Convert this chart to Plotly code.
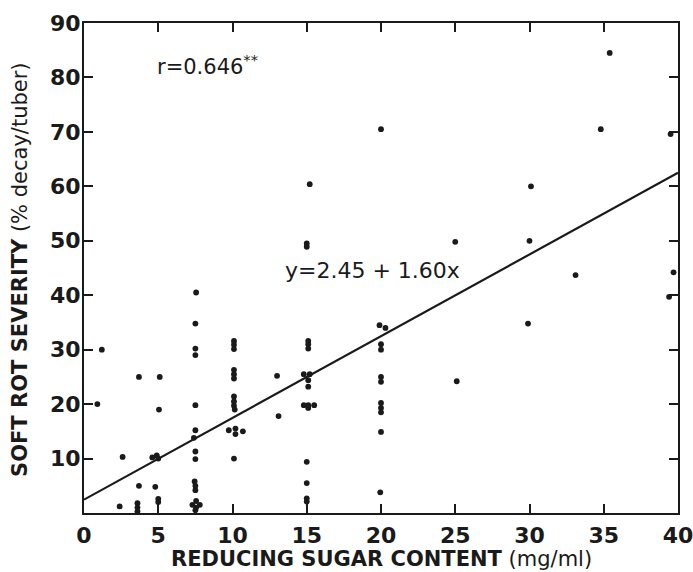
import plotly.graph_objects as go

# Reducing sugar content (mg/ml)
sugar = [1.2, 0.9, 2.6, 2.4,
         3.7, 3.7, 3.6, 3.6, 3.6,
         5.1, 5.05, 4.6, 4.9, 5.0, 4.8, 5.0, 5.0,
         7.55, 7.5, 7.5, 7.5, 7.5, 7.5, 7.4, 7.5, 7.5, 7.45, 7.5, 7.5, 7.55, 7.3, 7.8, 7.55, 7.5,
         10.1, 10.1, 10.1, 10.1, 10.1, 10.1, 10.1, 10.1, 10.1, 10.15, 9.75, 10.2, 10.2, 10.7, 10.1,
         13.0, 13.1,
         15.1, 15.1, 15.1, 14.8, 15.2, 15.1, 15.1, 14.8, 15.1, 15.5, 15.1, 15.0, 15.0, 15.0, 15.0, 15.2, 15.0, 15.0,
         20.0, 19.9, 20.3, 20.0, 20.0, 20.0, 20.0, 20.0, 20.0, 20.0, 20.0, 19.95,
         25.0, 25.1, 30.0, 29.9, 30.1, 33.1, 34.8, 35.4, 39.5, 39.7, 39.4]
# Soft rot severity (% decay/tuber)
severity = [30, 20, 10.3, 1.2,
            25, 5, 1.8, 1.0, 0.3,
            25, 19, 10.2, 10.6, 10.0, 4.8, 2.6, 2.0,
            40.5, 34.8, 30.2, 29, 19.8, 15.2, 13.8, 11.3, 9.9, 5.8, 5, 4.2, 2.2, 1.5, 1.5, 1.0, 0.5,
            31.6, 30.9, 30.1, 26.3, 25.5, 24.7, 21.4, 20.5, 19.7, 19, 15.2, 15.5, 14.5, 15, 10.0,
            25.2, 17.8,
            31.6, 31, 30.2, 25.5, 25.5, 24.4, 23.2, 19.8, 19.8, 19.8, 19.3, 9.4, 5.5, 2.7, 2.1, 60.4, 49.5, 48.9,
            70.5, 34.5, 34, 31, 30, 25, 24.1, 20.2, 19.3, 18.5, 14.9, 3.8,
            49.8, 24.2, 50, 34.8, 60, 43.7, 70.5, 84.5, 69.6, 44.2, 39.7]

# Regression line as drawn (endpoints)
fit_x = [0, 40]
fit_y = [2.45, 62.5]

x_ticks = [0, 5, 10, 15, 20, 25, 30, 35, 40]
y_ticks = [10, 20, 30, 40, 50, 60, 70, 80, 90]

FONT = "DejaVu Sans, Liberation Sans, sans-serif"
INK = "#1a1a1a"

fig = go.Figure()
fig.add_trace(go.Scatter(x=fit_x, y=fit_y, mode="lines",
                         line=dict(color=INK, width=2.2), showlegend=False,
                         hoverinfo="skip"))
fig.add_trace(go.Scatter(x=sugar, y=severity, mode="markers",
                         marker=dict(color=INK, size=5.8), showlegend=False))

axis_common = dict(showline=True, linecolor=INK, linewidth=2, mirror="ticks",
                   ticks="inside", ticklen=9, tickwidth=2, tickcolor=INK,
                   showgrid=False, zeroline=False, ticklabeloverflow="allow",
                   automargin=False,
                   tickfont=dict(family=FONT, size=22, color=INK, weight="bold"))

fig.update_xaxes(range=[0, 40], tickvals=x_ticks, ticktext=[str(v) for v in x_ticks],
                 ticklabelstandoff=2, **axis_common)
fig.update_yaxes(range=[0, 90], tickvals=y_ticks, ticktext=[str(v) for v in y_ticks],
                 ticklabelstandoff=-3, **axis_common)

# Axis titles
fig.add_annotation(x=0.5, y=0, xref="paper", yref="paper", xanchor="center", yanchor="middle",
                   yshift=-46, showarrow=False,
                   text="<b>REDUCING SUGAR CONTENT</b> (mg/ml)",
                   font=dict(family=FONT, size=21, color=INK))
fig.add_annotation(x=0, y=0.496, xref="paper", yref="paper", xanchor="center", yanchor="middle",
                   xshift=-64, textangle=-90, showarrow=False,
                   text="<b>SOFT ROT SEVERITY</b> (% decay/tuber)",
                   font=dict(family=FONT, size=21, color=INK))

fig.add_annotation(x=4.8, y=82.3, xref="x", yref="y", xanchor="left", yanchor="middle",
                   text="r=0.646<sup>**</sup>", showarrow=False,
                   font=dict(family=FONT, size=21, color=INK))
fig.add_annotation(x=13.4, y=44.6, xref="x", yref="y", xanchor="left", yanchor="middle",
                   text="y=2.45 + 1.60x", showarrow=False,
                   font=dict(family=FONT, size=22, color=INK))

fig.update_layout(width=693, height=572, margin=dict(l=84, r=15, t=23, b=59),
                  plot_bgcolor="white", paper_bgcolor="white")

fig.write_html("out.html", config={"displayModeBar": False},
               post_script="document.body.style.margin='0px';document.body.style.overflow='hidden';")
